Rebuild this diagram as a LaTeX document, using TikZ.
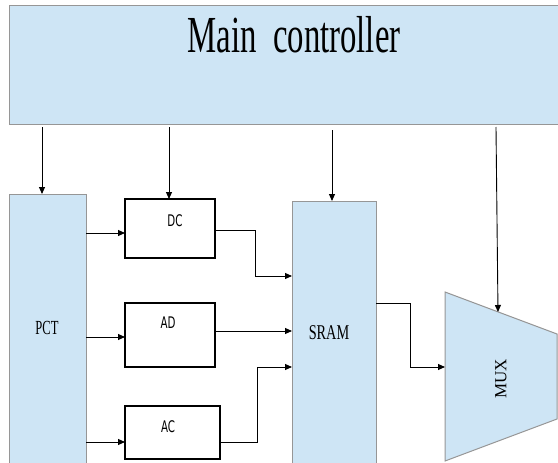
\documentclass[tikz,border=0pt]{standalone}
\usepackage{fontspec}
\usepackage{graphicx}
\setmainfont{Liberation Serif}
\newfontfamily\dvs{DejaVu Sans}
\usetikzlibrary{arrows.meta,calc}
\definecolor{boxblue}{RGB}{206,229,245}
\definecolor{boxline}{RGB}{150,150,150}
\begin{document}
\begin{tikzpicture}[x=1pt,y=-1pt,
  bluebox/.style={draw=boxline, line width=1pt, fill=boxblue, inner sep=0pt, outer sep=0pt},
  whitebox/.style={draw=black, line width=1.2pt, fill=white, inner sep=0pt, outer sep=0pt},
  arr/.style={-{Triangle[length=7pt,width=6pt]}, line width=0.9pt},
  lbl/.style={inner sep=0pt},
]
\useasboundingbox (0,0) rectangle (558,463);

% main controller
\node[bluebox, minimum width=549pt, minimum height=119pt, anchor=north west] (main) at (9,5) {};
\node[lbl] (maint) at (294,35) {\scalebox{0.63}[1]{\fontsize{52}{52}\selectfont Main\ \ controller}};

% PCT
\node[bluebox, minimum width=77pt, minimum height=280pt, anchor=north west] (pct) at (9,194) {};
\node[lbl] (pctt) at (47,328) {\scalebox{0.63}[1]{\fontsize{20}{20}\selectfont PCT}};

% DC, AD, AC
\node[whitebox, minimum width=90pt, minimum height=59pt, anchor=north west] (dc) at (125,199) {};
\node[lbl] (dct) at (175,221) {\scalebox{0.64}[1]{\dvs\fontsize{16}{16}\selectfont DC}};
\node[whitebox, minimum width=90pt, minimum height=64pt, anchor=north west] (ad) at (125,303) {};
\node[lbl] (adt) at (168,323) {\scalebox{0.64}[1]{\dvs\fontsize{16}{16}\selectfont AD}};
\node[whitebox, minimum width=95pt, minimum height=53pt, anchor=north west] (ac) at (125,406) {};
\node[lbl] (act) at (168,427) {\scalebox{0.64}[1]{\dvs\fontsize{16}{16}\selectfont AC}};

% SRAM
\node[bluebox, minimum width=84pt, minimum height=275pt, anchor=north west] (sram) at (292,201) {};
\node[lbl] (sramt) at (329,333) {\scalebox{0.68}[1]{\fontsize{21}{21}\selectfont SRAM}};

% MUX
\coordinate (m1) at (445,292);
\coordinate (m2) at (557,334);
\coordinate (m3) at (557,419);
\coordinate (m4) at (445,461);
\draw[bluebox] (m1) -- (m2) -- (m3) -- (m4) -- cycle;
\node[lbl, rotate=90] (muxt) at (501,379) {\fontsize{17}{17}\selectfont MUX};
\coordinate (muxin) at (445,367);
\coordinate (muxtop) at (498,312);

% controller arrows
\coordinate (c1) at (42,127);
\coordinate (c2) at (169,127);
\coordinate (c3) at (332,130);
\coordinate (c4) at (496,127);
\draw[arr] (c1) -- (c1 |- pct.north);
\draw[arr] (c2) -- (c2 |- dc.north);
\draw[arr] (c3) -- (c3 |- sram.north);
\draw[arr] (c4) -- (muxtop);

% PCT to blocks
\coordinate (p1) at (0,233);
\coordinate (p2) at (0,337);
\coordinate (p3) at (0,442);
\draw[arr] (pct.east |- p1) -- (dc.west |- p1);
\draw[arr] (pct.east |- p2) -- (ad.west |- p2);
\draw[arr] (pct.east |- p3) -- (ac.west |- p3);

% blocks to SRAM
\coordinate (q1) at (255,230);
\coordinate (q2) at (0,276);
\coordinate (q3) at (0,331);
\coordinate (q4) at (257,442);
\coordinate (q5) at (0,367);
\draw[arr] (dc.east |- q1) -- (q1) |- (sram.west |- q2);
\draw[arr] (ad.east |- q3) -- (sram.west |- q3);
\draw[arr] (ac.east |- q4) -- (q4) |- (sram.west |- q5);

% SRAM to MUX
\coordinate (q6) at (410,303);
\draw[arr] (sram.east |- q6) -- (q6) |- (muxin);
\end{tikzpicture}
\end{document}
